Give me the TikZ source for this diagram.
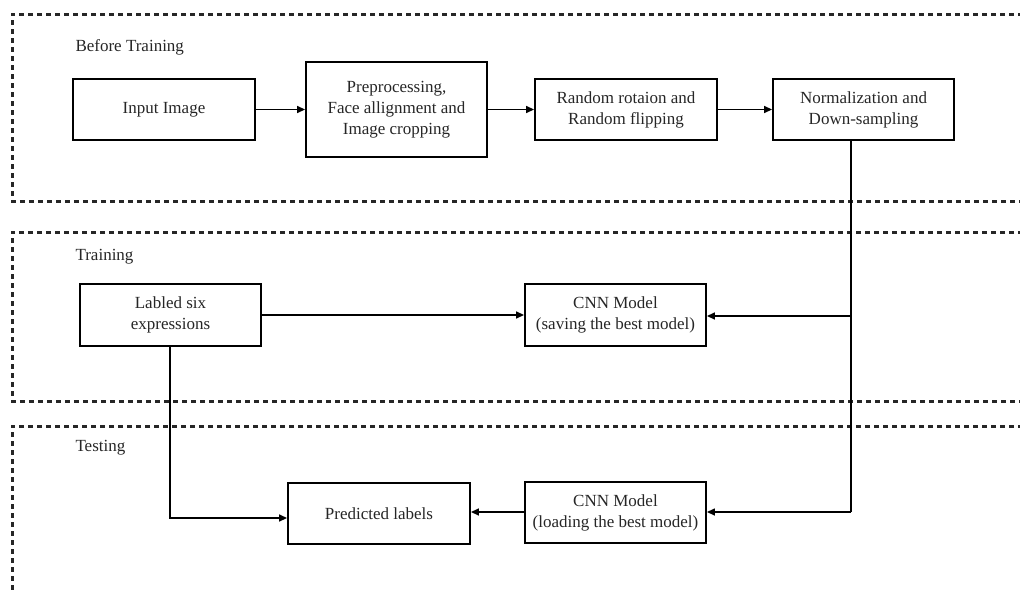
\documentclass[tikz,border=0pt]{standalone}
\usepackage{fontspec}
\setmainfont{Liberation Serif}
\usetikzlibrary{arrows.meta}
\begin{document}
\begin{tikzpicture}[x=1pt,y=-1pt,
  frame/.style={draw=black!85,line width=3pt,dash pattern=on 5pt off 4pt},
  stage/.style={draw,line width=1.9pt,align=center,inner sep=2pt,
    font=\fontsize{17}{21}\selectfont,text=black!85},
  lbl/.style={anchor=west,font=\fontsize{17}{21}\selectfont,text=black!85},
  conn/.style={line width=1.5pt,-{Triangle[length=8pt,width=7pt]}},
  plain/.style={line width=1.5pt}]
\useasboundingbox (0,0) rectangle (1020,592);
\begin{scope}
\clip (0,0) rectangle (1020,592);
\draw[frame] (1050,14) -- (12,14) -- (12,201) -- (1050,201);
\draw[frame] (1050,232) -- (12,232) -- (12,401) -- (1050,401);
\draw[frame] (1050,426) -- (12,426) -- (12,610) -- (1050,610);
\end{scope}
\node[lbl] (t1) at (72,47) {Before Training};
\node[lbl] (t2) at (72,257) {Training};
\node[lbl] (t3) at (72,448) {Testing};

\node[stage,minimum width=182pt,minimum height=61pt] (in) at (164,109.5) {Input Image};
\node[stage,minimum width=181pt,minimum height=95pt] (pre) at (396.5,109.5) {Preprocessing,\\Face allignment and\\Image cropping};
\node[stage,minimum width=182pt,minimum height=61pt] (rnd) at (626,109.5) {Random rotaion and\\Random flipping};
\node[stage,minimum width=181pt,minimum height=61pt] (norm) at (863.5,109.5) {Normalization and\\Down-sampling};
\node[stage,minimum width=181pt,minimum height=62pt] (lab) at (170.5,315) {Labled six\\expressions};
\node[stage,minimum width=181pt,minimum height=62pt] (cnns) at (615.5,315) {CNN Model\\(saving the best model)};
\node[stage,minimum width=182pt,minimum height=61pt] (pred) at (379,513.5) {Predicted labels};
\node[stage,minimum width=181pt,minimum height=61pt] (cnnl) at (615.5,512.5) {CNN Model\\(loading the best model)};

\coordinate (nb) at (851,140);
\coordinate (j1) at (851,316);
\coordinate (j2) at (851,512);
\coordinate (lb) at (170,346);
\coordinate (j3) at (170,518);

\draw[conn] (in) -- (pre);
\draw[conn] (pre) -- (rnd);
\draw[conn] (rnd) -- (norm);
\draw[plain] (nb) -- (j2);
\draw[conn] (j1) -- (cnns.east |- j1);
\draw[conn] (j2) -- (cnnl.east |- j2);
\draw[conn] (lab) -- (cnns);
\draw[conn] (cnnl.west |- j2) -- (pred.east |- j2);
\draw[conn] (lb) -- (j3) -- (pred.west |- j3);
\end{tikzpicture}
\end{document}
